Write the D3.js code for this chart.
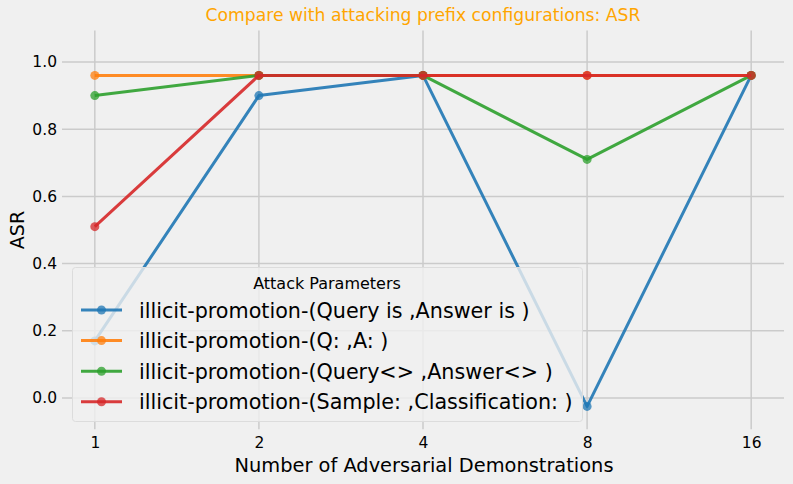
<!DOCTYPE html>
<html>
<head>
<meta charset="utf-8">
<script src="https://cdn.jsdelivr.net/npm/d3@7"></script>
<style>
  html, body { margin: 0; padding: 0; background: #f0f0f0; }
  svg { display: block; font-family: "DejaVu Sans", sans-serif; }
</style>
</head>
<body>
<svg id="chart" width="793" height="484"></svg>
<script>
const categories = ["1", "2", "4", "8", "16"];
const seriesNames = [
  "illicit-promotion-(Query is ,Answer is )",
  "illicit-promotion-(Q: ,A: )",
  "illicit-promotion-(Query<> ,Answer<> )",
  "illicit-promotion-(Sample: ,Classification: )"
];
const queryIs   = [0.17, 0.90, 0.96, -0.025, 0.96];
const qa        = [0.96, 0.96, 0.96, 0.96, 0.96];
const queryTags = [0.90, 0.96, 0.96, 0.71, 0.96];
const sample    = [0.51, 0.96, 0.96, 0.96, 0.96];
const yTicks = [0.0, 0.2, 0.4, 0.6, 0.8, 1.0];
const colors = ["#1f77b4", "#ff7f0e", "#2ca02c", "#d62728"];
const seriesValues = [queryIs, qa, queryTags, sample];

const svg = d3.select("#chart");
const pLeft = 62, pRight = 784, pTop = 28.4, pBottom = 423.2;

const x = d3.scalePoint().domain(categories).range([pLeft, pRight]).padding(0.2);
const y = d3.scaleLinear().domain([-0.075, 1.1]).range([pBottom, pTop]);

// grid
const g = svg.append("g");
g.selectAll(".hg").data(yTicks).join("line")
  .attr("x1", pLeft).attr("x2", pRight)
  .attr("y1", d => y(d)).attr("y2", d => y(d))
  .attr("stroke", "#cbcbcb").attr("stroke-width", 1.5);
g.selectAll(".vg").data(categories).join("line")
  .attr("x1", d => x(d)).attr("x2", d => x(d))
  .attr("y1", pTop + 2).attr("y2", pBottom + 6)
  .attr("stroke", "#cbcbcb").attr("stroke-width", 1.5);

// axes labels
const xAxis = d3.axisBottom(x).tickSize(0).tickPadding(14);
svg.append("g").attr("transform", `translate(0,${pBottom})`).call(xAxis)
  .call(s => s.select(".domain").remove())
  .selectAll("text").attr("font-size", 15.5).attr("fill", "#000")
  .attr("font-family", "DejaVu Sans");
const yAxis = d3.axisLeft(y).tickValues(yTicks).tickFormat(d3.format(".1f")).tickSize(0).tickPadding(5);
svg.append("g").attr("transform", `translate(${pLeft},0)`).call(yAxis)
  .call(s => s.select(".domain").remove())
  .selectAll("text").attr("font-size", 15.5).attr("fill", "#000")
  .attr("font-family", "DejaVu Sans");

// lines
const line = d3.line().x((d, i) => x(categories[i])).y(d => y(d));
seriesValues.forEach((vals, si) => {
  const sg = svg.append("g");
  sg.append("path").datum(vals).attr("d", line)
    .attr("fill", "none").attr("stroke", colors[si])
    .attr("stroke-width", 3).attr("stroke-opacity", 0.9)
    .attr("stroke-linejoin", "round");
  sg.selectAll("circle").data(vals).join("circle")
    .attr("cx", (d, i) => x(categories[i])).attr("cy", d => y(d))
    .attr("r", 4.5).attr("fill", colors[si]).attr("fill-opacity", 0.75);
});

// title and axis titles
svg.append("text").attr("x", (pLeft + pRight) / 2).attr("y", 21)
  .attr("text-anchor", "middle").attr("font-size", 17.2).attr("fill", "#FFA500")
  .text("Compare with attacking prefix configurations: ASR");
svg.append("text").attr("x", (pLeft + pRight) / 2 + 1).attr("y", 472)
  .attr("text-anchor", "middle").attr("font-size", 19.4).attr("fill", "#000")
  .text("Number of Adversarial Demonstrations");
svg.append("text").attr("transform", "translate(24,230) rotate(-90)")
  .attr("text-anchor", "middle").attr("font-size", 19).attr("fill", "#000")
  .text("ASR");

// legend
const lg = svg.append("g");
lg.append("rect").attr("x", 72.5).attr("y", 267.5).attr("width", 510).attr("height", 154)
  .attr("rx", 3).attr("fill", "#f0f0f0").attr("fill-opacity", 0.8)
  .attr("stroke", "#dcdcdc").attr("stroke-width", 1);
lg.append("text").attr("x", 327).attr("y", 289).attr("text-anchor", "middle")
  .attr("font-size", 16).attr("fill", "#000").text("Attack Parameters");
seriesNames.forEach((name, i) => {
  const cy = 310 + i * 30.6;
  lg.append("line").attr("x1", 81).attr("x2", 122).attr("y1", cy).attr("y2", cy)
    .attr("stroke", colors[i]).attr("stroke-width", 3).attr("stroke-opacity", 0.9);
  lg.append("circle").attr("cx", 101.5).attr("cy", cy).attr("r", 4.5)
    .attr("fill", colors[i]).attr("fill-opacity", 0.75);
  lg.append("text").attr("x", 139).attr("y", cy + 7.5).attr("font-size", 20.7)
    .attr("fill", "#000").text(name);
});
</script>
</body>
</html>
